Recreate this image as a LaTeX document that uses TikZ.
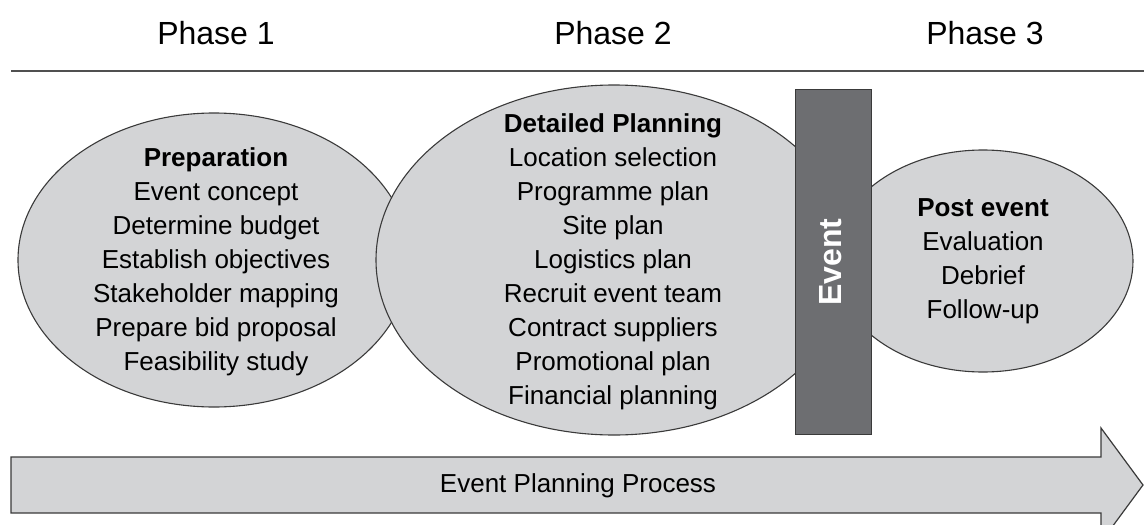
\documentclass[tikz,border=0pt]{standalone}
\usepackage{fontspec}
\setmainfont{Liberation Sans}
\usetikzlibrary{shapes.geometric}
\definecolor{ovalfill}{HTML}{D3D4D6}
\definecolor{ovaledge}{HTML}{3A3A3A}
\definecolor{barfill}{HTML}{6D6E71}
\definecolor{lineclr}{HTML}{505050}
\tikzset{
  stage/.style={ellipse, draw=ovaledge, fill=ovalfill, line width=1.1pt, inner sep=0pt},
  stagetext/.style={align=center, font=\fontsize{26}{34}\selectfont, inner sep=0pt},
  phaselabel/.style={font=\fontsize{32}{38}\selectfont, anchor=base, inner sep=0pt},
  eventbar/.style={rectangle, draw=ovaledge, fill=barfill, line width=1pt, inner sep=0pt},
}
\begin{document}
\begin{tikzpicture}[x=1pt,y=-1pt]
\useasboundingbox (0,0) rectangle (1144,525);
% phase headings
\node[phaselabel] (p1) at (216,44) {Phase 1};
\node[phaselabel] (p2) at (613,44) {Phase 2};
\node[phaselabel] (p3) at (985,44) {Phase 3};
\coordinate (ls) at (11,71);
\coordinate (le) at (1144,71);
\draw[lineclr, line width=2pt] (ls) -- (le);
% ovals
\node[stage, minimum width=392pt, minimum height=294pt] (prep) at (214,260) {};
\node[stage, minimum width=476pt, minimum height=350pt] (plan) at (614,260) {};
\node[stage, minimum width=300pt, minimum height=222pt] (post) at (983,261) {};
% event bar
\node[eventbar, minimum width=76pt, minimum height=345pt] (event) at (833,261.5) {};
\node[rotate=90, text=white, font=\fontsize{32}{38}\selectfont\bfseries, inner sep=0pt] (eventlbl) at (831,262) {Event};
% oval texts
\node[stagetext] (preptext) at (216,262) {\textbf{Preparation}\\Event concept\\Determine budget\\Establish objectives\\Stakeholder mapping\\Prepare bid proposal\\Feasibility study};
\node[stagetext] (plantext) at (613,262) {\textbf{Detailed Planning}\\Location selection\\Programme plan\\Site plan\\Logistics plan\\Recruit event team\\Contract suppliers\\Promotional plan\\Financial planning};
\node[stagetext] (posttext) at (983,261) {\textbf{Post event}\\Evaluation\\Debrief\\Follow-up};
% process arrow
\draw[draw=ovaledge, fill=ovalfill, line width=1.2pt, line join=miter]
  (11,457) -- (1101,457) -- (1101,428) -- (1143,485) -- (1101,542) -- (1101,513) -- (11,513) -- cycle;
\node[font=\fontsize{26}{32}\selectfont, anchor=base, inner sep=0pt] (proc) at (578,492) {Event Planning Process};
\end{tikzpicture}
\end{document}
